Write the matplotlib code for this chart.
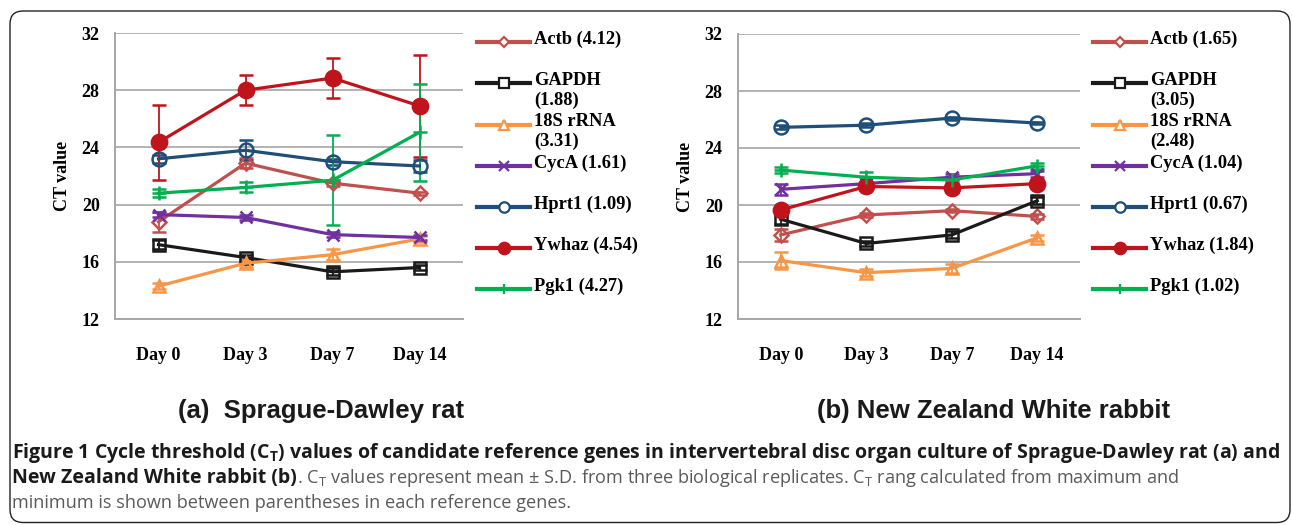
import numpy as np
import matplotlib
matplotlib.use("Agg")
import matplotlib.pyplot as plt
from matplotlib.lines import Line2D
from matplotlib.patches import FancyBboxPatch

plt.rcParams['font.family'] = 'Liberation Serif'
plt.rcParams['font.weight'] = 'bold'
plt.rcParams['axes.labelweight'] = 'bold'
plt.rcParams['mathtext.fontset'] = 'custom'
plt.rcParams['mathtext.rm'] = 'Open Sans:normal'
plt.rcParams['mathtext.bf'] = 'Open Sans:bold'

days = ["Day 0", "Day 3", "Day 7", "Day 14"]
genes = ["Actb", "GAPDH", "18S rRNA", "CycA", "Hprt1", "Ywhaz", "Pgk1"]

# rat (a)
rat_mean = {
    "Actb":     [18.8, 22.9, 21.5, 20.8],
    "GAPDH":    [17.2, 16.3, 15.3, 15.6],
    "18S rRNA": [14.3, 15.9, 16.5, 17.6],
    "CycA":     [19.3, 19.1, 17.9, 17.7],
    "Hprt1":    [23.2, 23.8, 23.0, 22.7],
    "Ywhaz":    [24.35, 28.0, 28.85, 26.9],
    "Pgk1":     [20.8, 21.2, 21.7, 25.05],
}
rat_sd = {
    "Actb":     [0.7, 0.35, 0.2, 0.1],
    "GAPDH":    [0.3, 0.2, 0.25, 0.2],
    "18S rRNA": [0.2, 0.25, 0.4, 0.2],
    "CycA":     [0.2, 0.15, 0.15, 0.2],
    "Hprt1":    [0.3, 0.7, 0.2, 0.4],
    "Ywhaz":    [2.65, 1.05, 1.4, 3.55],
    "Pgk1":     [0.3, 0.35, 3.15, 3.4],
}
rat_range = ["(4.12)", "(1.88)", "(3.31)", "(1.61)", "(1.09)", "(4.54)", "(4.27)"]

# rabbit (b)
rab_mean = {
    "Actb":     [17.9, 19.3, 19.6, 19.2],
    "GAPDH":    [19.0, 17.3, 17.9, 20.3],
    "18S rRNA": [16.1, 15.25, 15.55, 17.7],
    "CycA":     [21.1, 21.5, 21.95, 22.2],
    "Hprt1":    [25.45, 25.6, 26.1, 25.75],
    "Ywhaz":    [19.65, 21.3, 21.2, 21.5],
    "Pgk1":     [22.45, 21.95, 21.75, 22.75],
}
rab_sd = {
    "Actb":     [0.4, 0.15, 0.1, 0.15],
    "GAPDH":    [0.3, 0.2, 0.25, 0.25],
    "18S rRNA": [0.6, 0.25, 0.3, 0.2],
    "CycA":     [0.4, 0.1, 0.2, 0.2],
    "Hprt1":    [0.15, 0.15, 0.1, 0.1],
    "Ywhaz":    [0.15, 0.1, 0.1, 0.1],
    "Pgk1":     [0.2, 0.4, 0.2, 0.2],
}
rab_range = ["(1.65)", "(3.05)", "(2.48)", "(1.04)", "(0.67)", "(1.84)", "(1.02)"]

styles = {
    "Actb":     dict(color="#C0504D", marker="D", ms=7, mfc="none"),
    "GAPDH":    dict(color="#1A1A1A", marker="s", ms=9, mfc="none"),
    "18S rRNA": dict(color="#F79646", marker="^", ms=9, mfc="none"),
    "CycA":     dict(color="#7030A0", marker="x", ms=9, mfc="none"),
    "Hprt1":    dict(color="#1F4E79", marker="o", ms=10, mfc="none"),
    "Ywhaz":    dict(color="#C0141C", marker="o", ms=11, mfc="#C0141C"),
    "Pgk1":     dict(color="#00B050", marker="+", ms=10, mfc="none"),
}

W, H = 1292, 525
fig = plt.figure(figsize=(W / 100, H / 100), dpi=100)


def fx(px):
    return px / W


def fy(py):
    return 1 - py / H


def draw_panel(rect, means, sds):
    ax = fig.add_axes(rect)
    x = np.arange(len(days))
    for g in genes:
        st = styles[g]
        ax.errorbar(x, means[g], yerr=sds[g], color=st["color"], lw=2.3,
                    marker=st["marker"], ms=st["ms"], mfc=st["mfc"],
                    mec=st["color"], mew=1.8, elinewidth=1.3, capsize=5,
                    capthick=1.3)
    ax.set_xlim(-0.5, 3.5)
    ax.set_ylim(12, 32)
    ax.set_yticks([12, 16, 20, 24, 28, 32])
    ax.set_xticks(x)
    ax.set_xticklabels(days)
    ax.grid(axis="y", color="#A6A6A6", lw=1.2)
    ax.set_axisbelow(True)
    for s in ["top", "right"]:
        ax.spines[s].set_visible(False)
    for s in ["left", "bottom"]:
        ax.spines[s].set_color("#A6A6A6")
        ax.spines[s].set_linewidth(1.4)
    ax.tick_params(axis="x", length=0, pad=20, labelsize=13)
    ax.tick_params(axis="y", length=0, pad=11, labelsize=13)
    ax.set_ylabel("CT value", fontsize=13, labelpad=8)
    return ax


def draw_legend(x0, x1, xt, ranges):
    ys = [42, 83, 124.5, 165.5, 206.5, 248, 289]
    for g, r, py in zip(genes, ranges, ys):
        st = styles[g]
        fig.add_artist(Line2D([fx(x0), fx(x1)], [fy(py), fy(py)],
                              transform=fig.transFigure, color=st["color"], lw=3))
        fig.add_artist(Line2D([fx((x0 + x1) / 2)], [fy(py)], transform=fig.transFigure,
                              ls="none", marker=st["marker"], ms=st["ms"] * 0.75,
                              mfc="white" if st["mfc"] == "none" else st["color"],
                              mec=st["color"], mew=1.6))
        label = g + " " + r
        if g in ("GAPDH", "18S rRNA"):
            label = g + "\n" + r
        fig.text(fx(xt), fy(py - 11), label, fontsize=13.3, ha="left", va="top",
                 linespacing=1.2)


ax1 = draw_panel([fx(115), fy(319), fx(463) - fx(115), fy(33) - fy(319)], rat_mean, rat_sd)
ax2 = draw_panel([fx(738), fy(319), fx(1080) - fx(738), fy(34) - fy(319)], rab_mean, rab_sd)
draw_legend(477, 530, 534, rat_range)
draw_legend(1093, 1146, 1150, rab_range)

fig.text(fx(178), fy(411), "(a)  Sprague-Dawley rat", family="Liberation Sans",
         weight="bold", fontsize=18.5, ha="left", va="center", color="#1A1A1A")
fig.text(fx(817), fy(411), "(b) New Zealand White rabbit", family="Liberation Sans",
         weight="bold", fontsize=18.5, ha="left", va="center", color="#1A1A1A")

# caption
cap_kw = dict(family="Open Sans", ha="left", va="center")
fig.text(fx(12), fy(453),
         r"Figure 1 Cycle threshold (C$_\mathbf{T}$) values of candidate reference genes in "
         r"intervertebral disc organ culture of Sprague-Dawley rat (a) and",
         weight="bold", color="#1A1A1A", fontsize=14, **cap_kw)
t2 = fig.text(fx(12), fy(478), "New Zealand White rabbit (b)", weight="bold",
              color="#1A1A1A", fontsize=14, **cap_kw)
fig.canvas.draw()
bb = t2.get_window_extent()
fig.text(bb.x1 / W, fy(478),
         r". C$_\mathrm{T}$ values represent mean ± S.D. from three biological replicates. "
         r"C$_\mathrm{T}$ rang calculated from maximum and",
         weight="normal", color="#5A5A5A", fontsize=13.1, **cap_kw)
fig.text(fx(12), fy(503), "minimum is shown between parentheses in each reference genes.",
         weight="normal", color="#5A5A5A", fontsize=13.1, **cap_kw)

box = FancyBboxPatch((0.10, 0.025), 12.80, 5.115, boxstyle="round,pad=0,rounding_size=0.13",
                     transform=fig.dpi_scale_trans, fill=False, ec="#222222", lw=1.0)
fig.add_artist(box)

fig.savefig("out.png", dpi=100)
